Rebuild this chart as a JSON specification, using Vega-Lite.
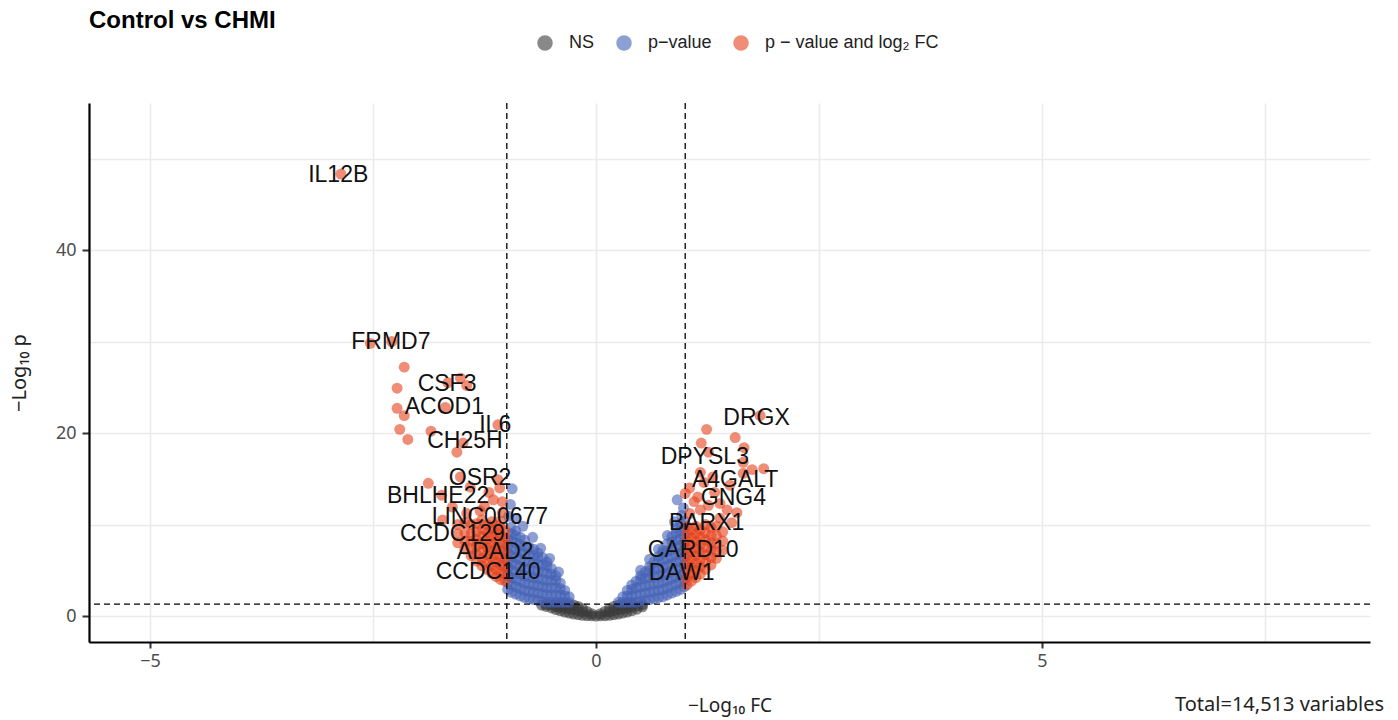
{
  "$schema": "https://vega.github.io/schema/vega-lite/v6.json",
  "autosize": {"type": "none"},
  "width": 1281,
  "height": 539,
  "padding": {"left": 89, "top": 103, "right": 28, "bottom": 78},
  "background": "white",
  "config": {
    "view": {"stroke": null},
    "font": "Liberation Sans",
    "title": {"font": "Liberation Sans", "fontSize": 24, "fontWeight": "bold", "color": "#000000", "anchor": "start", "frame": "group", "offset": 1}
  },
  "title": {"text": "Control vs CHMI"},
  "datasets": {
    "pts": [
      {"x":0,"y":0,"g":"N"},{"x":0.05,"y":0.02,"g":"N"},{"x":-0.05,"y":0.02,"g":"N"},{"x":0.05,"y":0.25,"g":"N"},{"x":-0.05,"y":0.25,"g":"N"},
      {"x":0.1,"y":0.04,"g":"N"},{"x":-0.1,"y":0.04,"g":"N"},{"x":0.1,"y":0.5,"g":"N"},{"x":-0.1,"y":0.5,"g":"N"},
      {"x":0.15,"y":0.08,"g":"N"},{"x":-0.15,"y":0.08,"g":"N"},{"x":0.15,"y":0.45,"g":"N"},{"x":-0.15,"y":0.45,"g":"N"},{"x":0.15,"y":0.8,"g":"N"},{"x":-0.15,"y":0.8,"g":"N"},
      {"x":0.2,"y":0.14,"g":"N"},{"x":-0.2,"y":0.14,"g":"N"},{"x":0.2,"y":0.6,"g":"N"},{"x":-0.2,"y":0.6,"g":"N"},{"x":0.2,"y":1.05,"g":"N"},{"x":-0.2,"y":1.05,"g":"N"},
      {"x":0.25,"y":0.22,"g":"N"},{"x":-0.25,"y":0.22,"g":"N"},{"x":0.25,"y":0.7,"g":"N"},{"x":-0.25,"y":0.7,"g":"N"},{"x":0.25,"y":1.2,"g":"N"},{"x":-0.25,"y":1.2,"g":"N"},
      {"x":0.3,"y":0.32,"g":"N"},{"x":-0.3,"y":0.32,"g":"N"},{"x":0.3,"y":0.8,"g":"N"},{"x":-0.3,"y":0.8,"g":"N"},{"x":0.3,"y":1.25,"g":"N"},{"x":-0.3,"y":1.25,"g":"N"},
      {"x":0.35,"y":0.43,"g":"N"},{"x":-0.35,"y":0.43,"g":"N"},{"x":0.35,"y":0.85,"g":"N"},{"x":-0.35,"y":0.85,"g":"N"},{"x":0.35,"y":1.25,"g":"N"},{"x":-0.35,"y":1.25,"g":"N"},
      {"x":0.4,"y":0.56,"g":"N"},{"x":-0.4,"y":0.56,"g":"N"},{"x":0.4,"y":0.95,"g":"N"},{"x":-0.4,"y":0.95,"g":"N"},{"x":0.41,"y":1.25,"g":"N"},{"x":-0.4,"y":1.25,"g":"N"},
      {"x":0.46,"y":0.75,"g":"N"},{"x":0.47,"y":1.1,"g":"N"},{"x":0.52,"y":1.0,"g":"N"},{"x":0.52,"y":1.25,"g":"N"},
      {"x":-0.45,"y":0.7,"g":"N"},{"x":-0.45,"y":1.0,"g":"N"},{"x":-0.45,"y":1.25,"g":"N"},{"x":-0.5,"y":0.88,"g":"N"},{"x":-0.5,"y":1.22,"g":"N"},{"x":-0.56,"y":1.05,"g":"N"},{"x":-0.56,"y":1.25,"g":"N"},{"x":-0.61,"y":1.2,"g":"N"},

      {"x":-0.3,"y":1.5,"g":"P"},{"x":-0.3,"y":2.1,"g":"P"},
      {"x":-0.35,"y":1.5,"g":"P"},{"x":-0.35,"y":2.2,"g":"P"},{"x":-0.35,"y":2.8,"g":"P"},
      {"x":-0.4,"y":1.5,"g":"P"},{"x":-0.4,"y":2.3,"g":"P"},{"x":-0.4,"y":3.0,"g":"P"},{"x":-0.4,"y":3.6,"g":"P"},
      {"x":-0.45,"y":1.5,"g":"P"},{"x":-0.45,"y":2.3,"g":"P"},{"x":-0.45,"y":3.1,"g":"P"},{"x":-0.45,"y":3.9,"g":"P"},{"x":-0.45,"y":4.4,"g":"P"},
      {"x":-0.5,"y":1.5,"g":"P"},{"x":-0.5,"y":2.3,"g":"P"},{"x":-0.5,"y":3.1,"g":"P"},{"x":-0.5,"y":3.9,"g":"P"},{"x":-0.5,"y":4.6,"g":"P"},{"x":-0.5,"y":5.2,"g":"P"},
      {"x":-0.55,"y":1.5,"g":"P"},{"x":-0.55,"y":2.3,"g":"P"},{"x":-0.55,"y":3.1,"g":"P"},{"x":-0.55,"y":3.9,"g":"P"},{"x":-0.55,"y":4.7,"g":"P"},{"x":-0.55,"y":5.5,"g":"P"},{"x":-0.55,"y":5.9,"g":"P"},
      {"x":-0.6,"y":1.6,"g":"P"},{"x":-0.6,"y":2.4,"g":"P"},{"x":-0.6,"y":3.2,"g":"P"},{"x":-0.6,"y":4.0,"g":"P"},{"x":-0.6,"y":4.8,"g":"P"},{"x":-0.6,"y":5.6,"g":"P"},{"x":-0.6,"y":6.4,"g":"P"},
      {"x":-0.65,"y":1.7,"g":"P"},{"x":-0.65,"y":2.5,"g":"P"},{"x":-0.65,"y":3.3,"g":"P"},{"x":-0.65,"y":4.1,"g":"P"},{"x":-0.65,"y":4.9,"g":"P"},{"x":-0.65,"y":5.7,"g":"P"},{"x":-0.65,"y":6.4,"g":"P"},{"x":-0.65,"y":6.9,"g":"P"},
      {"x":-0.7,"y":1.8,"g":"P"},{"x":-0.7,"y":2.6,"g":"P"},{"x":-0.7,"y":3.4,"g":"P"},{"x":-0.7,"y":4.2,"g":"P"},{"x":-0.7,"y":5.0,"g":"P"},{"x":-0.7,"y":5.8,"g":"P"},{"x":-0.7,"y":6.6,"g":"P"},{"x":-0.7,"y":7.3,"g":"P"},
      {"x":-0.75,"y":1.9,"g":"P"},{"x":-0.75,"y":2.7,"g":"P"},{"x":-0.75,"y":3.5,"g":"P"},{"x":-0.75,"y":4.3,"g":"P"},{"x":-0.75,"y":5.1,"g":"P"},{"x":-0.75,"y":5.9,"g":"P"},{"x":-0.75,"y":6.7,"g":"P"},{"x":-0.75,"y":7.5,"g":"P"},
      {"x":-0.8,"y":2.0,"g":"P"},{"x":-0.8,"y":2.8,"g":"P"},{"x":-0.8,"y":3.6,"g":"P"},{"x":-0.8,"y":4.4,"g":"P"},{"x":-0.8,"y":5.2,"g":"P"},{"x":-0.8,"y":6.0,"g":"P"},{"x":-0.8,"y":6.8,"g":"P"},{"x":-0.8,"y":7.6,"g":"P"},{"x":-0.8,"y":8.3,"g":"P"},
      {"x":-0.85,"y":2.2,"g":"P"},{"x":-0.85,"y":3.0,"g":"P"},{"x":-0.85,"y":3.8,"g":"P"},{"x":-0.85,"y":4.6,"g":"P"},{"x":-0.85,"y":5.4,"g":"P"},{"x":-0.85,"y":6.2,"g":"P"},{"x":-0.85,"y":7.0,"g":"P"},{"x":-0.85,"y":7.8,"g":"P"},{"x":-0.85,"y":8.6,"g":"P"},
      {"x":-0.9,"y":2.4,"g":"P"},{"x":-0.9,"y":3.2,"g":"P"},{"x":-0.9,"y":4.0,"g":"P"},{"x":-0.9,"y":4.8,"g":"P"},{"x":-0.9,"y":5.6,"g":"P"},{"x":-0.9,"y":6.4,"g":"P"},{"x":-0.9,"y":7.2,"g":"P"},{"x":-0.9,"y":8.0,"g":"P"},{"x":-0.9,"y":8.8,"g":"P"},{"x":-0.9,"y":9.3,"g":"P"},
      {"x":-0.95,"y":2.6,"g":"P"},{"x":-0.95,"y":3.4,"g":"P"},{"x":-0.95,"y":4.2,"g":"P"},{"x":-0.95,"y":5.0,"g":"P"},{"x":-0.95,"y":5.8,"g":"P"},{"x":-0.95,"y":6.6,"g":"P"},{"x":-0.95,"y":7.4,"g":"P"},{"x":-0.95,"y":8.2,"g":"P"},{"x":-0.95,"y":9.0,"g":"P"},{"x":-0.95,"y":9.7,"g":"P"},
      {"x":-0.99,"y":2.9,"g":"P"},{"x":-0.99,"y":3.7,"g":"P"},{"x":-0.99,"y":4.5,"g":"P"},{"x":-0.99,"y":5.3,"g":"P"},{"x":-0.99,"y":6.1,"g":"P"},{"x":-0.99,"y":6.9,"g":"P"},{"x":-0.99,"y":7.7,"g":"P"},{"x":-0.99,"y":8.5,"g":"P"},
      {"x":-0.94,"y":13.9,"g":"P"},{"x":-0.96,"y":12.2,"g":"P"},{"x":-0.9,"y":10.7,"g":"P"},{"x":-0.82,"y":9.8,"g":"P"},{"x":-0.71,"y":8.6,"g":"P"},{"x":-0.62,"y":7.4,"g":"P"},{"x":-0.52,"y":6.3,"g":"P"},{"x":-0.42,"y":4.8,"g":"P"},{"x":-0.98,"y":10.9,"g":"P"},

      {"x":0.25,"y":1.5,"g":"P"},
      {"x":0.3,"y":1.5,"g":"P"},{"x":0.3,"y":2.1,"g":"P"},
      {"x":0.35,"y":1.5,"g":"P"},{"x":0.35,"y":2.2,"g":"P"},{"x":0.35,"y":2.8,"g":"P"},
      {"x":0.4,"y":1.5,"g":"P"},{"x":0.4,"y":2.2,"g":"P"},{"x":0.4,"y":2.9,"g":"P"},{"x":0.4,"y":3.4,"g":"P"},
      {"x":0.45,"y":1.5,"g":"P"},{"x":0.45,"y":2.3,"g":"P"},{"x":0.45,"y":3.1,"g":"P"},{"x":0.45,"y":3.8,"g":"P"},
      {"x":0.5,"y":1.6,"g":"P"},{"x":0.5,"y":2.4,"g":"P"},{"x":0.5,"y":3.2,"g":"P"},{"x":0.5,"y":4.0,"g":"P"},{"x":0.5,"y":4.4,"g":"P"},
      {"x":0.55,"y":1.7,"g":"P"},{"x":0.55,"y":2.5,"g":"P"},{"x":0.55,"y":3.3,"g":"P"},{"x":0.55,"y":4.1,"g":"P"},{"x":0.55,"y":4.8,"g":"P"},
      {"x":0.6,"y":1.8,"g":"P"},{"x":0.6,"y":2.6,"g":"P"},{"x":0.6,"y":3.4,"g":"P"},{"x":0.6,"y":4.2,"g":"P"},{"x":0.6,"y":5.0,"g":"P"},{"x":0.6,"y":5.4,"g":"P"},
      {"x":0.65,"y":1.9,"g":"P"},{"x":0.65,"y":2.7,"g":"P"},{"x":0.65,"y":3.5,"g":"P"},{"x":0.65,"y":4.3,"g":"P"},{"x":0.65,"y":5.1,"g":"P"},{"x":0.65,"y":5.9,"g":"P"},
      {"x":0.7,"y":2.0,"g":"P"},{"x":0.7,"y":2.8,"g":"P"},{"x":0.7,"y":3.6,"g":"P"},{"x":0.7,"y":4.4,"g":"P"},{"x":0.7,"y":5.2,"g":"P"},{"x":0.7,"y":6.0,"g":"P"},{"x":0.7,"y":6.5,"g":"P"},
      {"x":0.75,"y":2.1,"g":"P"},{"x":0.75,"y":2.9,"g":"P"},{"x":0.75,"y":3.7,"g":"P"},{"x":0.75,"y":4.5,"g":"P"},{"x":0.75,"y":5.3,"g":"P"},{"x":0.75,"y":6.1,"g":"P"},{"x":0.75,"y":6.9,"g":"P"},{"x":0.75,"y":7.2,"g":"P"},
      {"x":0.8,"y":2.3,"g":"P"},{"x":0.8,"y":3.1,"g":"P"},{"x":0.8,"y":3.9,"g":"P"},{"x":0.8,"y":4.7,"g":"P"},{"x":0.8,"y":5.5,"g":"P"},{"x":0.8,"y":6.3,"g":"P"},{"x":0.8,"y":7.1,"g":"P"},{"x":0.8,"y":7.9,"g":"P"},
      {"x":0.85,"y":2.5,"g":"P"},{"x":0.85,"y":3.3,"g":"P"},{"x":0.85,"y":4.1,"g":"P"},{"x":0.85,"y":4.9,"g":"P"},{"x":0.85,"y":5.7,"g":"P"},{"x":0.85,"y":6.5,"g":"P"},{"x":0.85,"y":7.3,"g":"P"},{"x":0.85,"y":8.1,"g":"P"},{"x":0.85,"y":8.7,"g":"P"},
      {"x":0.9,"y":2.7,"g":"P"},{"x":0.9,"y":3.5,"g":"P"},{"x":0.9,"y":4.3,"g":"P"},{"x":0.9,"y":5.1,"g":"P"},{"x":0.9,"y":5.9,"g":"P"},{"x":0.9,"y":6.7,"g":"P"},{"x":0.9,"y":7.5,"g":"P"},{"x":0.9,"y":8.3,"g":"P"},{"x":0.9,"y":9.1,"g":"P"},{"x":0.9,"y":9.6,"g":"P"},
      {"x":0.95,"y":2.9,"g":"P"},{"x":0.95,"y":3.7,"g":"P"},{"x":0.95,"y":4.5,"g":"P"},{"x":0.95,"y":5.3,"g":"P"},{"x":0.95,"y":6.1,"g":"P"},{"x":0.95,"y":6.9,"g":"P"},{"x":0.95,"y":7.7,"g":"P"},{"x":0.95,"y":8.5,"g":"P"},{"x":0.95,"y":9.3,"g":"P"},{"x":0.95,"y":10.1,"g":"P"},
      {"x":0.99,"y":3.2,"g":"P"},{"x":0.99,"y":4.0,"g":"P"},{"x":0.99,"y":4.8,"g":"P"},{"x":0.99,"y":5.6,"g":"P"},{"x":0.99,"y":6.4,"g":"P"},{"x":0.99,"y":7.2,"g":"P"},{"x":0.99,"y":8.0,"g":"P"},{"x":0.99,"y":8.8,"g":"P"},{"x":0.99,"y":9.6,"g":"P"},{"x":0.99,"y":10.4,"g":"P"},
      {"x":0.91,"y":12.7,"g":"P"},{"x":0.98,"y":11.8,"g":"P"},{"x":0.96,"y":11.0,"g":"P"},{"x":0.88,"y":10.3,"g":"P"},{"x":0.8,"y":8.8,"g":"P"},{"x":0.7,"y":7.3,"g":"P"},{"x":0.6,"y":6.2,"g":"P"},{"x":0.5,"y":5.0,"g":"P"},

      {"x":-1.02,"y":3.8,"g":"F"},{"x":-1.02,"y":4.6,"g":"F"},{"x":-1.02,"y":5.4,"g":"F"},{"x":-1.02,"y":6.2,"g":"F"},{"x":-1.02,"y":7.0,"g":"F"},{"x":-1.02,"y":7.8,"g":"F"},{"x":-1.02,"y":8.6,"g":"F"},{"x":-1.02,"y":9.4,"g":"F"},
      {"x":-1.07,"y":4.0,"g":"F"},{"x":-1.07,"y":4.8,"g":"F"},{"x":-1.07,"y":5.6,"g":"F"},{"x":-1.07,"y":6.4,"g":"F"},{"x":-1.07,"y":7.2,"g":"F"},{"x":-1.07,"y":8.0,"g":"F"},{"x":-1.07,"y":8.8,"g":"F"},{"x":-1.07,"y":9.6,"g":"F"},{"x":-1.07,"y":10.4,"g":"F"},
      {"x":-1.12,"y":4.3,"g":"F"},{"x":-1.12,"y":5.1,"g":"F"},{"x":-1.12,"y":5.9,"g":"F"},{"x":-1.12,"y":6.7,"g":"F"},{"x":-1.12,"y":7.5,"g":"F"},{"x":-1.12,"y":8.3,"g":"F"},{"x":-1.12,"y":9.1,"g":"F"},{"x":-1.12,"y":9.9,"g":"F"},
      {"x":-1.17,"y":4.7,"g":"F"},{"x":-1.17,"y":5.5,"g":"F"},{"x":-1.17,"y":6.3,"g":"F"},{"x":-1.17,"y":7.1,"g":"F"},{"x":-1.17,"y":7.9,"g":"F"},{"x":-1.17,"y":8.7,"g":"F"},{"x":-1.17,"y":9.5,"g":"F"},{"x":-1.17,"y":10.3,"g":"F"},
      {"x":-1.22,"y":5.1,"g":"F"},{"x":-1.22,"y":5.9,"g":"F"},{"x":-1.22,"y":6.7,"g":"F"},{"x":-1.22,"y":7.5,"g":"F"},{"x":-1.22,"y":8.3,"g":"F"},{"x":-1.22,"y":9.1,"g":"F"},{"x":-1.22,"y":10.0,"g":"F"},
      {"x":-1.28,"y":5.5,"g":"F"},{"x":-1.28,"y":6.3,"g":"F"},{"x":-1.28,"y":7.1,"g":"F"},{"x":-1.28,"y":7.9,"g":"F"},{"x":-1.28,"y":8.7,"g":"F"},{"x":-1.28,"y":9.5,"g":"F"},{"x":-1.28,"y":10.5,"g":"F"},
      {"x":-1.34,"y":6.0,"g":"F"},{"x":-1.34,"y":6.8,"g":"F"},{"x":-1.34,"y":7.6,"g":"F"},{"x":-1.34,"y":8.4,"g":"F"},{"x":-1.34,"y":9.2,"g":"F"},{"x":-1.34,"y":10.1,"g":"F"},
      {"x":-1.4,"y":6.6,"g":"F"},{"x":-1.4,"y":7.4,"g":"F"},{"x":-1.4,"y":8.2,"g":"F"},{"x":-1.4,"y":9.0,"g":"F"},{"x":-1.4,"y":10.0,"g":"F"},
      {"x":-1.47,"y":7.3,"g":"F"},{"x":-1.47,"y":8.2,"g":"F"},{"x":-1.47,"y":9.1,"g":"F"},{"x":-1.47,"y":10.2,"g":"F"},
      {"x":-1.55,"y":8.0,"g":"F"},{"x":-1.55,"y":9.0,"g":"F"},{"x":-1.55,"y":10.0,"g":"F"},
      {"x":-1.08,"y":14.0,"g":"F"},{"x":-1.1,"y":14.9,"g":"F"},{"x":-1.15,"y":12.7,"g":"F"},{"x":-1.41,"y":14.1,"g":"F"},{"x":-1.52,"y":15.2,"g":"F"},{"x":-1.61,"y":11.9,"g":"F"},{"x":-1.72,"y":10.5,"g":"F"},{"x":-1.73,"y":13.2,"g":"F"},{"x":-1.88,"y":14.5,"g":"F"},{"x":-1.25,"y":12.0,"g":"F"},{"x":-1.05,"y":12.5,"g":"F"},{"x":-1.3,"y":11.5,"g":"F"},{"x":-1.45,"y":11.2,"g":"F"},{"x":-1.2,"y":13.5,"g":"F"},{"x":-1.05,"y":11.3,"g":"F"},
      {"x":-2.86,"y":48.3,"g":"F"},{"x":-2.53,"y":29.8,"g":"F"},{"x":-2.29,"y":30.0,"g":"F"},{"x":-2.15,"y":27.2,"g":"F"},{"x":-2.23,"y":24.9,"g":"F"},{"x":-2.23,"y":22.7,"g":"F"},{"x":-2.15,"y":21.9,"g":"F"},{"x":-2.2,"y":20.4,"g":"F"},{"x":-2.11,"y":19.3,"g":"F"},{"x":-1.85,"y":20.2,"g":"F"},
      {"x":-1.66,"y":25.5,"g":"F"},{"x":-1.52,"y":26.0,"g":"F"},{"x":-1.45,"y":25.2,"g":"F"},{"x":-1.69,"y":22.8,"g":"F"},{"x":-1.1,"y":20.9,"g":"F"},{"x":-1.49,"y":18.9,"g":"F"},{"x":-1.56,"y":17.9,"g":"F"},

      {"x":1.02,"y":3.4,"g":"F"},{"x":1.02,"y":4.2,"g":"F"},{"x":1.02,"y":5.0,"g":"F"},{"x":1.02,"y":5.8,"g":"F"},{"x":1.02,"y":6.6,"g":"F"},{"x":1.02,"y":7.4,"g":"F"},{"x":1.02,"y":8.2,"g":"F"},{"x":1.02,"y":9.0,"g":"F"},{"x":1.02,"y":9.8,"g":"F"},
      {"x":1.07,"y":3.8,"g":"F"},{"x":1.07,"y":4.6,"g":"F"},{"x":1.07,"y":5.4,"g":"F"},{"x":1.07,"y":6.2,"g":"F"},{"x":1.07,"y":7.0,"g":"F"},{"x":1.07,"y":7.8,"g":"F"},{"x":1.07,"y":8.6,"g":"F"},{"x":1.07,"y":9.4,"g":"F"},
      {"x":1.12,"y":4.2,"g":"F"},{"x":1.12,"y":5.0,"g":"F"},{"x":1.12,"y":5.8,"g":"F"},{"x":1.12,"y":6.6,"g":"F"},{"x":1.12,"y":7.4,"g":"F"},{"x":1.12,"y":8.2,"g":"F"},{"x":1.12,"y":9.0,"g":"F"},{"x":1.12,"y":9.8,"g":"F"},
      {"x":1.17,"y":4.6,"g":"F"},{"x":1.17,"y":5.4,"g":"F"},{"x":1.17,"y":6.2,"g":"F"},{"x":1.17,"y":7.0,"g":"F"},{"x":1.17,"y":7.8,"g":"F"},{"x":1.17,"y":8.6,"g":"F"},{"x":1.17,"y":9.4,"g":"F"},
      {"x":1.23,"y":5.1,"g":"F"},{"x":1.23,"y":5.9,"g":"F"},{"x":1.23,"y":6.7,"g":"F"},{"x":1.23,"y":7.5,"g":"F"},{"x":1.23,"y":8.3,"g":"F"},{"x":1.23,"y":9.1,"g":"F"},{"x":1.23,"y":10.0,"g":"F"},
      {"x":1.29,"y":5.6,"g":"F"},{"x":1.29,"y":6.4,"g":"F"},{"x":1.29,"y":7.2,"g":"F"},{"x":1.29,"y":8.0,"g":"F"},{"x":1.29,"y":8.8,"g":"F"},{"x":1.29,"y":9.7,"g":"F"},
      {"x":1.35,"y":6.3,"g":"F"},{"x":1.35,"y":7.1,"g":"F"},{"x":1.35,"y":7.9,"g":"F"},{"x":1.35,"y":8.8,"g":"F"},{"x":1.35,"y":9.8,"g":"F"},
      {"x":1.42,"y":7.2,"g":"F"},{"x":1.42,"y":8.2,"g":"F"},{"x":1.42,"y":9.2,"g":"F"},
      {"x":1.84,"y":21.9,"g":"F"},{"x":1.24,"y":20.4,"g":"F"},{"x":1.56,"y":19.5,"g":"F"},{"x":1.18,"y":18.9,"g":"F"},{"x":1.66,"y":18.4,"g":"F"},{"x":1.26,"y":17.9,"g":"F"},{"x":1.65,"y":16.8,"g":"F"},{"x":1.75,"y":16.0,"g":"F"},{"x":1.17,"y":15.7,"g":"F"},{"x":1.65,"y":15.6,"g":"F"},{"x":1.31,"y":15.2,"g":"F"},{"x":1.5,"y":14.3,"g":"F"},{"x":1.05,"y":14.0,"g":"F"},{"x":1.0,"y":13.4,"g":"F"},{"x":1.14,"y":13.0,"g":"F"},{"x":1.33,"y":13.5,"g":"F"},{"x":1.26,"y":12.1,"g":"F"},{"x":1.39,"y":12.3,"g":"F"},{"x":1.47,"y":11.6,"g":"F"},{"x":1.17,"y":11.6,"g":"F"},{"x":1.05,"y":11.2,"g":"F"},{"x":1.52,"y":10.2,"g":"F"},{"x":1.39,"y":10.7,"g":"F"},{"x":1.58,"y":11.3,"g":"F"},{"x":1.1,"y":12.5,"g":"F"},{"x":1.21,"y":14.6,"g":"F"},{"x":1.88,"y":16.1,"g":"F"}
    ],
    "labs": [
      {"gene":"IL12B","x":-2.89,"y":48.2},{"gene":"FRMD7","x":-2.3,"y":30.0},{"gene":"CSF3","x":-1.67,"y":25.4},{"gene":"ACOD1","x":-1.7,"y":22.8},{"gene":"IL6","x":-1.13,"y":20.9},{"gene":"CH25H","x":-1.47,"y":19.1},
      {"gene":"OSR2","x":-1.3,"y":15.1},{"gene":"BHLHE22","x":-1.77,"y":13.1},{"gene":"LINC00677","x":-1.19,"y":10.8},{"gene":"CCDC129","x":-1.61,"y":9.0},{"gene":"ADAD2","x":-1.13,"y":7.0},{"gene":"CCDC140","x":-1.21,"y":4.8},
      {"gene":"DRGX","x":1.8,"y":21.6},{"gene":"DPYSL3","x":1.22,"y":17.4},{"gene":"A4GALT","x":1.56,"y":14.9},{"gene":"GNG4","x":1.54,"y":12.9},{"gene":"BARX1","x":1.24,"y":10.2},{"gene":"CARD10","x":1.09,"y":7.2},{"gene":"DAW1","x":0.96,"y":4.7}
    ]
  },
  "layer": [
    {
      "data": {"name": "pts"},
      "mark": {"type": "circle", "size": 120, "opacity": 0.6},
      "encoding": {
        "x": {
          "field": "x", "type": "quantitative",
          "scale": {"domain": [-5.684, 8.677], "nice": false, "zero": false},
          "axis": {
            "values": [-5, -2.5, 0, 2.5, 5, 7.5],
            "format": "d",
            "labelExpr": "datum.value % 5 === 0 ? datum.label : ''",
            "title": "−Log₁₀ FC",
            "titleFont": "Noto Sans", "titleFontSize": 19, "titleFontWeight": "normal", "titleColor": "#222222", "titlePadding": 26,
            "labelFont": "Noto Sans", "labelFontSize": 18, "labelColor": "#4d4d4d", "labelPadding": 4,
            "domainColor": "#000000", "domainWidth": 2.2,
            "tickColor": "#333333", "tickWidth": 2, "tickSize": 6,
            "tickOpacity": {"condition": {"test": "datum.value % 5 === 0", "value": 1}, "value": 0},
            "grid": true, "gridColor": "#ebebeb", "gridWidth": 1.6
          }
        },
        "y": {
          "field": "y", "type": "quantitative",
          "scale": {"domain": [-2.84, 56.07], "nice": false, "zero": false},
          "axis": {
            "values": [0, 10, 20, 30, 40, 50],
            "format": "d",
            "labelExpr": "datum.value % 20 === 0 ? datum.label : ''",
            "title": "−Log₁₀ p",
            "titleFont": "Noto Sans", "titleFontSize": 20, "titleFontWeight": "normal", "titleColor": "#222222", "titlePadding": 26,
            "labelFont": "Noto Sans", "labelFontSize": 18, "labelColor": "#4d4d4d", "labelPadding": 6,
            "domainColor": "#000000", "domainWidth": 2.2,
            "tickColor": "#333333", "tickWidth": 2, "tickSize": 7,
            "tickOpacity": {"condition": {"test": "datum.value % 20 === 0", "value": 1}, "value": 0},
            "grid": true, "gridColor": "#ebebeb", "gridWidth": 1.6
          }
        },
        "color": {
          "field": "g", "type": "nominal",
          "scale": {"domain": ["N", "P", "F"], "range": ["#3a3a3a", "#4361b5", "#e5411a"]},
          "legend": {
            "title": null, "orient": "none", "direction": "horizontal",
            "legendX": 447, "legendY": -69,
            "symbolType": "circle", "symbolSize": 240, "symbolOpacity": 0.6, "symbolStrokeWidth": 0,
            "labelFont": "Liberation Sans", "labelFontSize": 18, "labelColor": "#222222", "labelOffset": 15, "labelLimit": 400,
            "columnPadding": 20,
            "labelExpr": "datum.value === 'N' ? 'NS' : datum.value === 'P' ? 'p−value' : 'p − value and log₂ FC'"
          }
        }
      }
    },
    {
      "data": {"values": [{"v": -1}, {"v": 1}]},
      "mark": {"type": "rule", "color": "#000000", "strokeWidth": 1.3, "strokeDash": [6, 4]},
      "encoding": {"x": {"field": "v", "type": "quantitative"}}
    },
    {
      "data": {"values": [{"h": 1.30103}]},
      "mark": {"type": "rule", "color": "#000000", "strokeWidth": 1.3, "strokeDash": [6, 4]},
      "encoding": {"y": {"field": "h", "type": "quantitative"}}
    },
    {
      "data": {"name": "labs"},
      "mark": {"type": "text", "font": "Liberation Sans", "fontSize": 23, "color": "#111111", "align": "center", "baseline": "middle"},
      "encoding": {
        "x": {"field": "x", "type": "quantitative"},
        "y": {"field": "y", "type": "quantitative"},
        "text": {"field": "gene"}
      }
    },
    {
      "data": {"values": [{"caption": "Total=14,513 variables"}]},
      "mark": {"type": "text", "font": "Noto Sans", "fontSize": 20, "color": "#222222", "align": "right", "baseline": "middle"},
      "encoding": {
        "x": {"datum": 8.834, "type": "quantitative"},
        "y": {"datum": -9.73, "type": "quantitative"},
        "text": {"field": "caption"}
      }
    }
  ]
}
